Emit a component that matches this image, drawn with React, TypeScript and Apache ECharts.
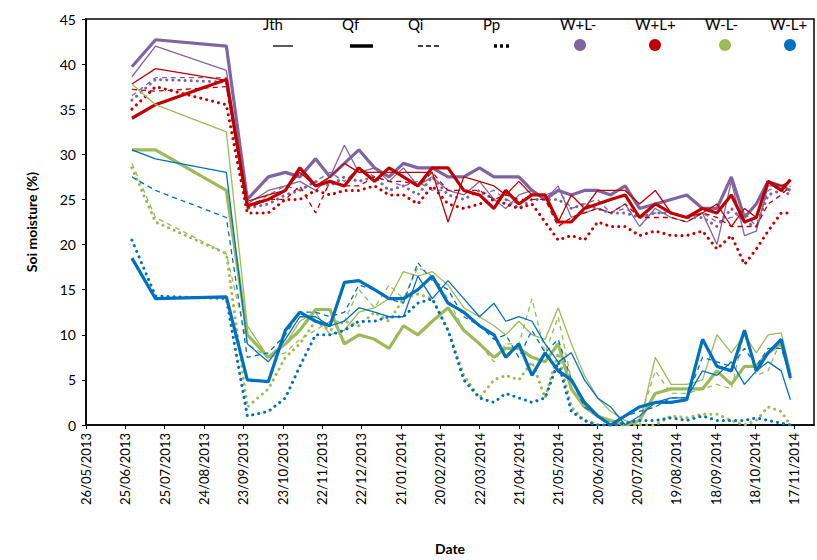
import * as echarts from 'echarts';
import { useEffect, useRef } from 'react';

// days since 26/05/2013
const days = [35, 53, 107, 123, 139, 152, 163, 175, 186, 197, 208, 220, 231, 242, 253, 264, 276, 288, 300, 311, 320, 330, 340, 350, 360, 370, 380, 390, 400, 411, 422, 434, 446, 458, 470, 481, 492, 502, 511, 520, 530, 537];

const wplmJth = [38.6, 42, 39.3, 24.5, 26, 26.5, 27, 26, 27.5, 31, 28, 28.5, 27, 28.5, 26.5, 27.5, 26, 25.5, 27, 25, 24, 25.5, 26, 25, 26.5, 23, 23.5, 24, 23.5, 24.5, 22, 24, 23, 22.5, 23.5, 20, 27, 21, 21.5, 26.5, 26.5, 26];
const wplmQf = [39.7, 42.7, 42, 25, 27.5, 28, 27.5, 29.5, 27.5, 29, 30.5, 28.5, 27.5, 29, 28.5, 28.5, 27.5, 27.5, 28.5, 27.5, 27.5, 27.5, 26, 25, 26, 25.5, 26, 26, 25.5, 26.5, 24, 24.5, 25, 25.5, 24, 24, 27.5, 23, 24.5, 27, 26.5, 26];
const wplmQi = [36.5, 38.5, 38.5, 24, 25.5, 26.5, 26, 27, 28, 27, 28.5, 27.5, 27, 26.5, 27, 26, 26, 26, 25.5, 26, 25, 24.5, 25.5, 25.5, 26, 24, 24.5, 25, 23.5, 24, 23, 23.5, 23.5, 23, 23.5, 22.5, 23, 23.5, 22, 26, 26.5, 26];
const wplmPp = [36, 38.3, 38, 24, 24.5, 25.5, 26, 27, 26.5, 27.5, 27, 27.5, 26, 26.5, 25.5, 27.5, 25.5, 25, 26, 25, 25, 24, 25, 25, 25, 24, 24.5, 24, 23.5, 23.5, 23, 23.5, 23.5, 23, 23, 22, 24, 22.5, 22, 25.5, 26, 25.5];

const wplpJth = [37.8, 39.5, 38.2, 24.8, 25.5, 26, 28, 26.5, 27.5, 29, 28, 28, 28, 28, 28, 28, 22.5, 27.5, 27, 26.5, 25.5, 27, 25.5, 25.5, 22.5, 25.5, 24, 26, 26, 26, 24.5, 26, 23.5, 23, 23.5, 24.5, 22, 24, 23, 27, 26.5, 27];
const wplpQf = [34, 35.5, 38.3, 24.3, 25, 26, 28.5, 26.5, 27, 26.5, 28.5, 27, 28.5, 27.5, 26.5, 28.5, 28.5, 26, 25.5, 24, 26, 24.5, 25.5, 25.5, 22.5, 22.5, 24, 24.5, 25, 25.5, 23, 24.5, 23.5, 23, 24, 23.5, 25.5, 22.5, 23, 27, 26, 27.2];
const wplpQi = [37.2, 37, 37.5, 24, 25, 25, 26.5, 23.5, 27, 26.5, 26.5, 27.5, 27, 27, 26.5, 28, 26, 26, 26, 25, 25.5, 25, 25, 25, 22, 23, 23.5, 24, 23.5, 24.5, 23, 23, 23, 22.5, 23.5, 23, 22, 22, 22, 24.5, 25.5, 26.5];
const wplpPp = [35, 37.5, 35.5, 23.5, 23.5, 25, 25, 26, 25.5, 26, 26, 26.5, 25.5, 25.5, 24.5, 26.5, 24.5, 24, 24.5, 25, 24.5, 24, 24.5, 22.5, 20.5, 21, 20.5, 22.5, 22, 22, 21, 21.5, 21, 21, 21.5, 19.5, 21, 17.8, 19.5, 21.5, 23.5, 23.5];

const wmlmJth = [37.8, 35.5, 32.5, 11, 7.5, 9, 11.5, 12.5, 10, 10.5, 12.5, 13, 14, 17, 16.5, 17, 15.5, 13, 12, 11, 10, 11.5, 10, 9.5, 13, 9, 5.5, 3, 1.5, 0.5, 0, 7.5, 4.5, 4.5, 5, 10, 8, 10, 8, 10, 10.2, 6];
const wmlmQf = [30.5, 30.5, 26, 10, 7.5, 9, 10.5, 12.8, 12.8, 9, 10, 9.5, 8.5, 11, 10, 11.5, 13, 10.5, 9, 7.5, 8.5, 8.5, 7.5, 7, 9, 4, 2, 1, 0.5, 0, 0.5, 3.5, 4, 4, 4, 6, 4.5, 6.5, 6.5, 8, 9, 5.5];
const wmlmQi = [29, 23, 19, 9, 7.5, 8, 9.5, 10.5, 11.5, 11.5, 15, 13, 15.5, 14, 17.5, 16.5, 14, 10.5, 9, 7, 9, 9, 14, 8, 12, 5, 2.5, 1, 0.3, 0, 0.5, 6, 3.5, 3.5, 4, 4.5, 4, 10.5, 5.5, 6, 9.5, 5];
const wmlmPp = [28.5, 22.5, 19, 2, 4, 7.5, 9, 11.5, 10.5, 11.5, 11, 12.5, 11.5, 14, 14.5, 14, 10.5, 5.5, 3, 5, 5.5, 5, 7, 3, 8, 2, 0.5, 0, 0, 0, 0, 0, 1, 0.8, 1.2, 1.2, 0.5, 0, 0.5, 2, 1.5, 0];

const wmlpJth = [30.5, 29.5, 28, 9, 7, 9.5, 12, 12, 11, 11.5, 13, 12.5, 12, 12, 16.5, 14, 16, 14, 12, 13.5, 11.5, 12, 11.5, 9, 7, 8, 5, 3, 2, 0, 1, 2.5, 3, 3, 6, 5.5, 7, 4.5, 6, 7, 6, 2.8];
const wmlpQf = [18.5, 14, 14.2, 5, 4.8, 10.5, 12.5, 11.5, 11, 15.8, 16, 15, 14, 14, 15, 16.5, 13.5, 12.5, 11, 10, 7.5, 9, 5.5, 8, 6, 5, 2.5, 1, 0, 1, 2, 2.5, 2.5, 2.8, 9.5, 6.5, 6, 10.5, 6, 8, 9.5, 5.2];
const wmlpQi = [27.5, 26, 23, 7.5, 8, 10, 12.5, 12.5, 12, 12.5, 15.5, 15, 14, 13.5, 18, 16, 15, 12, 11, 9.5, 10, 7.5, 10.5, 8, 9.5, 5, 2, 1, 0, 1, 1.5, 2, 3, 3, 7.5, 7, 6.5, 8.5, 6.5, 8.5, 8.5, 5.5];
const wmlpPp = [20.5, 14.3, 14, 1, 1.5, 3, 6.5, 10, 10, 10.5, 11.5, 11.5, 12, 12, 13.5, 14, 10.5, 5, 3, 2.5, 3.5, 3, 2.5, 3, 7, 1.5, 0.5, 0, 0, 0.2, 0.5, 0.5, 0.8, 0.5, 1, 0.5, 0.5, 0.5, 0.8, 0.5, 0.2, 0];

const species = ['Jth', 'Qf', 'Qi', 'Pp'];
const treatments = ['W+L-', 'W+L+', 'W-L-', 'W-L+'];
const colors = ['#8064A2', '#C00000', '#9BBB59', '#0070C0'];
const values = [
  [wplmJth, wplmQf, wplmQi, wplmPp],
  [wplpJth, wplpQf, wplpQi, wplpPp],
  [wmlmJth, wmlmQf, wmlmQi, wmlmPp],
  [wmlpJth, wmlpQf, wmlpQi, wmlpPp],
];

const start = Date.UTC(2013, 4, 26);
function dayLabel(d: number) {
  const t = new Date(start + d * 86400000);
  const dd = String(t.getUTCDate()).padStart(2, '0');
  const mm = String(t.getUTCMonth() + 1).padStart(2, '0');
  return `${dd}/${mm}/${t.getUTCFullYear()}`;
}

function styleFor(sp: number, color: string) {
  if (sp === 0) return { color, width: 1.3, type: 'solid' };
  if (sp === 1) return { color, width: 3.2, type: 'solid' };
  if (sp === 2) return { color, width: 1.3, type: [5, 4] };
  return { color, width: 3, type: [0.1, 6], cap: 'round' };
}

export default function App() {
  const elRef = useRef<HTMLDivElement | null>(null);

  useEffect(() => {
    if (!elRef.current) return;
    const chart = echarts.init(elRef.current, undefined, { renderer: 'svg' });
    const font = 'Lato, "Open Sans", sans-serif';

    const series: any[] = [];
    treatments.forEach((tr, ti) => {
      species.forEach((sp, si) => {
        series.push({
          name: `${tr} ${sp}`,
          type: 'line',
          data: days.map((d, i) => [d, values[ti][si][i]]),
          showSymbol: false,
          lineStyle: styleFor(si, colors[ti]),
          z: 2,
        });
      });
    });

    // legend drawn by hand
    const legX = [283, 362, 428, 503, 580, 655, 725, 790];
    const legLabels = [...species, ...treatments];
    const graphic: any[] = legLabels.map((t, i) => ({
      type: 'text',
      left: legX[i] - 20,
      top: 16,
      style: { text: t, fill: '#000', font: `15px ${font}`, width: 40, align: 'center', x: 20, textAlign: 'center' },
    }));
    const ly = 46;
    graphic.push({ type: 'line', shape: { x1: 273, y1: ly, x2: 293, y2: ly }, style: { stroke: '#000', lineWidth: 1.3 } });
    graphic.push({ type: 'line', shape: { x1: 350, y1: ly, x2: 373, y2: ly }, style: { stroke: '#000', lineWidth: 3.5 } });
    graphic.push({ type: 'line', shape: { x1: 418, y1: ly, x2: 439, y2: ly }, style: { stroke: '#000', lineWidth: 1.3, lineDash: [5, 3] } });
    graphic.push({ type: 'line', shape: { x1: 494, y1: ly, x2: 512, y2: ly }, style: { stroke: '#000', lineWidth: 3.5, lineDash: [3, 3] } });
    colors.forEach((c, i) => {
      graphic.push({ type: 'circle', shape: { cx: legX[4 + i], cy: ly - 1, r: 6 }, style: { fill: c } });
    });

    chart.setOption({
      animation: false,
      grid: { left: 86, right: 3, top: 19, bottom: 135, show: true, borderColor: '#000', borderWidth: 1.5, backgroundColor: 'transparent' },
      xAxis: {
        type: 'value',
        min: 0,
        max: 555,
        interval: 30,
        name: 'Date',
        nameLocation: 'middle',
        nameGap: 116,
        nameTextStyle: { fontFamily: font, fontWeight: 'bold', fontSize: 14, color: '#000' },
        axisLine: { show: true, lineStyle: { color: '#000', width: 1.5 } },
        axisTick: { show: true, length: 4, lineStyle: { color: '#000' } },
        splitLine: { show: false },
        axisLabel: { rotate: 90, color: '#000', fontFamily: font, fontSize: 13, margin: 8, showMaxLabel: false, formatter: (v: number) => dayLabel(v) },
      },
      yAxis: {
        type: 'value',
        min: 0,
        max: 45,
        interval: 5,
        name: 'Soi moisture (%)',
        nameLocation: 'middle',
        nameGap: 48,
        nameTextStyle: { fontFamily: font, fontWeight: 'bold', fontSize: 14, color: '#000' },
        axisLine: { show: true, lineStyle: { color: '#000', width: 1.5 } },
        axisTick: { show: true, length: 4, lineStyle: { color: '#000' } },
        splitLine: { show: false },
        axisLabel: { color: '#000', fontFamily: font, fontSize: 14, margin: 10 },
      },
      graphic,
      series,
    });

    return () => chart.dispose();
  }, []);

  return <div ref={elRef} style={{ position: 'fixed', left: 0, top: 0, width: 817, height: 560, background: '#fff' }} />;
}
